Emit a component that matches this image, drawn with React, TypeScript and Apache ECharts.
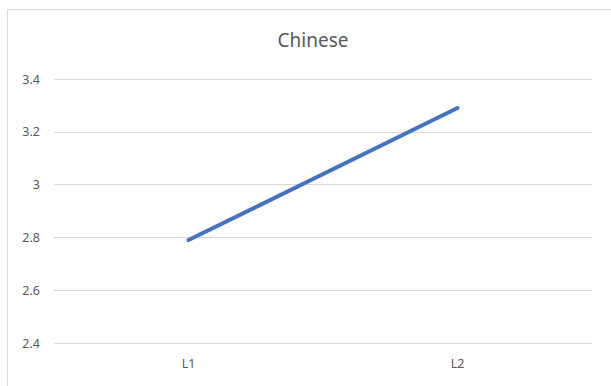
import React, { useEffect, useRef } from "react";
import * as echarts from "echarts";

const categories = ["L1", "L2"];
const values = [2.79, 3.29];
const yMin = 2.4;
const yMax = 3.4;
const yStep = 0.2;

const FONT = "'Noto Sans', 'Open Sans', sans-serif";

export default function App() {
  const ref = useRef<HTMLDivElement>(null);

  useEffect(() => {
    if (!ref.current) return;
    const chart = echarts.init(ref.current, undefined, { renderer: "svg" });
    chart.setOption({
      animation: false,
      backgroundColor: "#ffffff",
      title: {
        text: "Chinese",
        left: 308,
        textAlign: "center",
        top: 25,
        textStyle: {
          fontFamily: FONT,
          fontSize: 19,
          fontWeight: "normal",
          color: "#595959",
        },
      },
      graphic: [
        {
          type: "rect",
          shape: { x: 7.5, y: 9.5, width: 620, height: 400 },
          style: { fill: "none", stroke: "#d9d9d9", lineWidth: 1 },
          silent: true,
        },
      ],
      grid: { left: 54, right: 19, top: 79, bottom: 43 },
      xAxis: {
        type: "category",
        data: categories,
        boundaryGap: true,
        axisLine: { show: false },
        axisTick: { show: false },
        axisLabel: {
          margin: 14,
          fontFamily: FONT,
          fontSize: 12.5,
          color: "#595959",
        },
      },
      yAxis: {
        type: "value",
        min: yMin,
        max: yMax,
        interval: yStep,
        axisLine: { show: false },
        axisTick: { show: false },
        splitLine: { lineStyle: { color: "#d9d9d9", width: 1 } },
        axisLabel: {
          margin: 14,
          fontFamily: FONT,
          fontSize: 12.5,
          color: "#595959",
          formatter: (v: number) => String(Math.round(v * 10) / 10),
        },
      },
      series: [
        {
          type: "line",
          data: values,
          showSymbol: false,
          symbol: "none",
          lineStyle: { color: "#4472C4", width: 4, cap: "round" },
        },
      ],
    });
    return () => chart.dispose();
  }, []);

  return (
    <div
      ref={ref}
      style={{ position: "fixed", left: 0, top: 0, width: 611, height: 386 }}
    />
  );
}
